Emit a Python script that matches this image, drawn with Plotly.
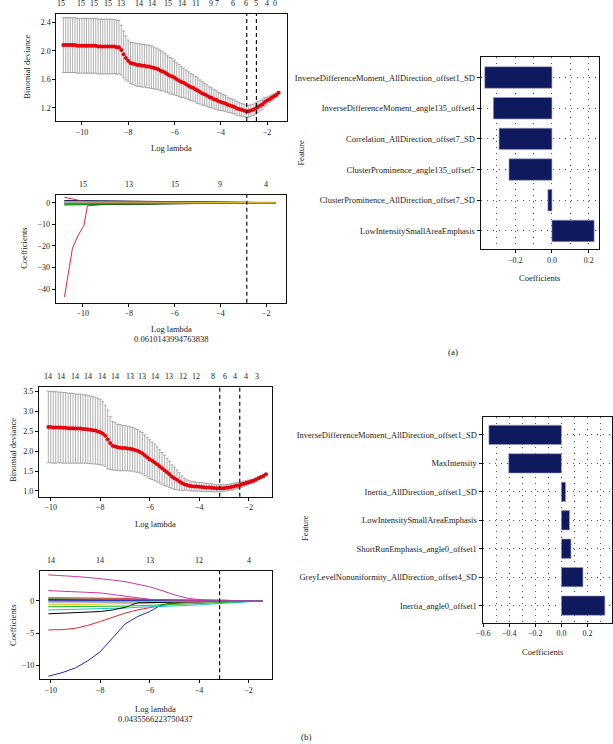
import numpy as np
import plotly.graph_objects as go

FONT = "Liberation Serif"
W, H = 613, 744

# ---------------- data: panel (a) cross-validation ----------------
cv_a_loglam = [-10.8, -10.7, -10.6, -10.5, -10.4, -10.3, -10.2, -10.1, -10.0, -9.9,
               -9.8, -9.7, -9.6, -9.5, -9.4, -9.3, -9.2, -9.1, -9.0, -8.9,
               -8.8, -8.7, -8.6, -8.5, -8.4, -8.3, -8.2, -8.1, -8.0, -7.9,
               -7.8, -7.7, -7.6, -7.5, -7.4, -7.3, -7.2, -7.1, -7.0, -6.9,
               -6.8, -6.7, -6.6, -6.5, -6.4, -6.3, -6.2, -6.1, -6.0, -5.9,
               -5.8, -5.7, -5.6, -5.5, -5.4, -5.3, -5.2, -5.1, -5.0, -4.9,
               -4.8, -4.7, -4.6, -4.5, -4.4, -4.3, -4.2, -4.1, -4.0, -3.9,
               -3.8, -3.7, -3.6, -3.5, -3.4, -3.3, -3.2, -3.1, -3.0, -2.9,
               -2.8, -2.7, -2.6, -2.5, -2.4, -2.3, -2.2, -2.1, -2.0, -1.9,
               -1.8, -1.7, -1.6, -1.5]
cv_a_mean = [2.08, 2.08, 2.08, 2.08, 2.08, 2.08, 2.07, 2.07, 2.07, 2.07,
             2.07, 2.07, 2.07, 2.07, 2.07, 2.06, 2.06, 2.06, 2.06, 2.06,
             2.06, 2.06, 2.06, 2.05, 2.05, 2.01, 1.95, 1.90, 1.86, 1.83,
             1.82, 1.81, 1.80, 1.80, 1.79, 1.79, 1.78, 1.78, 1.77, 1.76,
             1.75, 1.74, 1.72, 1.71, 1.69, 1.67, 1.65, 1.64, 1.62, 1.60,
             1.58, 1.56, 1.55, 1.53, 1.51, 1.49, 1.48, 1.46, 1.44, 1.42,
             1.40, 1.39, 1.37, 1.35, 1.34, 1.32, 1.31, 1.29, 1.28, 1.27,
             1.26, 1.24, 1.23, 1.22, 1.21, 1.19, 1.18, 1.17, 1.16, 1.15,
             1.15, 1.16, 1.17, 1.19, 1.21, 1.23, 1.25, 1.28, 1.30, 1.32,
             1.34, 1.36, 1.38, 1.41]
cv_a_sd = [0.385, 0.385, 0.385, 0.385, 0.385, 0.385, 0.385, 0.385, 0.385, 0.385,
           0.385, 0.385, 0.385, 0.385, 0.385, 0.385, 0.385, 0.385, 0.385, 0.385,
           0.385, 0.385, 0.38, 0.38, 0.375, 0.35, 0.33, 0.31, 0.29, 0.29,
           0.295, 0.30, 0.30, 0.30, 0.30, 0.30, 0.30, 0.30, 0.30, 0.295,
           0.29, 0.285, 0.28, 0.275, 0.27, 0.26, 0.255, 0.25, 0.24, 0.23,
           0.225, 0.215, 0.205, 0.20, 0.195, 0.19, 0.185, 0.18, 0.18, 0.17,
           0.165, 0.155, 0.15, 0.145, 0.14, 0.135, 0.13, 0.125, 0.12, 0.115,
           0.11, 0.105, 0.10, 0.10, 0.10, 0.095, 0.095, 0.09, 0.09, 0.085,
           0.085, 0.08, 0.08, 0.08, 0.08, 0.075, 0.07, 0.06, 0.05, 0.045,
           0.04, 0.035, 0.03, 0.02]
cv_a_top_pos = [-10.9, -10.03, -9.47, -8.86, -8.29, -7.52, -6.95, -6.29, -5.67, -5.05,
                -4.41, -4.15, -3.46, -2.89, -2.49, -2.02, -1.64]
cv_a_top_lab = ["15", "15", "15", "15", "13", "14", "14", "15", "14", "11",
                "9", "7", "6", "6", "5", "4", "0"]
cv_a_vlines = [-2.88, -2.46]

# ---------------- data: panel (a) coefficient paths ----------------
path_a_loglam = [-10.8, -10.6, -10.45, -10.2, -9.95, -9.8, -9.6, -9.4, -9.0, -8.5, -8.0, -7.5,
                 -7.0, -6.5, -6.0, -5.5, -5.0, -4.5, -4.0, -3.5, -3.0, -2.5, -2.0, -1.6]
path_a_coefs = [
    [1.0, 1.0, 0.95, 0.9, 0.9, 0.85, 0.85, 0.8, 0.8, 0.75, 0.7, 0.65, 0.6, 0.5, 0.4, 0.3, 0.2, 0.1, 0.05, 0, 0, 0, 0, 0],
    [-43.5, -31.0, -21.0, -15.0, -10.5, -1.5, -1.3, -1.0, -0.7, -0.5, -0.4, -0.3, -0.25, -0.2, -0.15, -0.1, -0.05, 0, 0, 0, 0, 0, 0, 0],
    [0.3, 0.3, 0.3, 0.3, 0.3, 0.3, 0.3, 0.3, 0.3, 0.3, 0.3, 0.3, 0.3, 0.3, 0.3, 0.3, 0.3, 0.3, 0.28, 0.26, 0.24, 0.22, 0.2, 0.18],
    [-0.6, -0.6, -0.6, -0.55, -0.55, -0.5, -0.5, -0.5, -0.45, -0.4, -0.4, -0.35, -0.3, -0.3, -0.25, -0.2, -0.15, -0.1, -0.05, 0, 0, 0, 0, 0],
    [0.1, 0.1, 0.1, 0.1, 0.1, 0.1, 0.1, 0.1, 0.1, 0.1, 0.1, 0.1, 0.1, 0.1, 0.1, 0.1, 0.1, 0.1, 0.1, 0.05, 0.05, 0.02, 0, 0],
    [0.6, 0.6, 0.6, 0.6, 0.6, 0.6, 0.6, 0.6, 0.6, 0.6, 0.6, 0.55, 0.5, 0.45, 0.4, 0.3, 0.1, 0, 0, 0, 0, 0, 0, 0],
    [-0.2, -0.2, -0.2, -0.2, -0.2, -0.2, -0.2, -0.2, -0.2, -0.2, -0.15, -0.15, -0.1, -0.1, -0.1, -0.05, 0, 0, 0, 0, 0, 0, 0, 0],
    [0.2, 0.2, 0.2, 0.2, 0.2, 0.2, 0.2, 0.2, 0.2, 0.2, 0.2, 0.15, 0.15, 0.1, 0.1, 0.1, 0.05, 0.05, 0, 0, 0, 0, 0, 0],
    [-1.0, -1.0, -1.0, -0.95, -0.95, -0.9, -0.9, -0.9, -0.85, -0.8, -0.8, -0.75, -0.7, -0.6, -0.5, -0.4, -0.3, -0.2, -0.1, -0.05, 0, 0, 0, 0],
    [2.5, 2.0, 1.6, 1.1, 0.6, 0.4, 0.3, 0.3, 0.25, 0.2, 0.2, 0.15, 0.1, 0.1, 0.05, 0.05, 0, 0, 0, 0, 0, 0, 0, 0],
    [-0.8, -0.8, -0.8, -0.8, -0.75, -0.75, -0.7, -0.7, -0.7, -0.65, -0.6, -0.55, -0.5, -0.45, -0.4, -0.3, -0.25, -0.2, -0.15, -0.1, -0.05, 0, 0, 0],
    [0.8, 0.8, 0.8, 0.75, 0.75, 0.7, 0.7, 0.7, 0.65, 0.6, 0.6, 0.55, 0.5, 0.45, 0.4, 0.35, 0.3, 0.2, 0.1, 0.05, 0, 0, 0, 0],
    [-0.3, -0.3, -0.3, -0.3, -0.3, -0.3, -0.3, -0.3, -0.3, -0.3, -0.25, -0.25, -0.2, -0.2, -0.15, -0.1, -0.1, -0.05, 0, 0, 0, 0, 0, 0],
    [-0.4, -0.4, -0.4, -0.4, -0.4, -0.4, -0.4, -0.35, -0.35, -0.3, -0.3, -0.3, -0.25, -0.2, -0.2, -0.15, -0.1, -0.05, -0.05, 0, 0, 0, 0, 0],
    [0.45, 0.45, 0.45, 0.45, 0.45, 0.45, 0.4, 0.4, 0.4, 0.4, 0.35, 0.35, 0.3, 0.3, 0.25, 0.2, 0.15, 0.1, 0.05, 0, 0, 0, 0, 0],
]
path_a_top_pos = [-10.0, -8.0, -6.0, -4.0, -2.0]
path_a_top_lab = ["15", "13", "15", "9", "4"]
path_a_vline = [-2.85]
lambda_a_text = "0.0610143994763838"

# ---------------- data: panel (a) selected features ----------------
bar_a_features = ["InverseDifferenceMoment_AllDirection_offset1_SD",
                  "InverseDifferenceMoment_angle135_offset4",
                  "Correlation_AllDirection_offset7_SD",
                  "ClusterProminence_angle135_offset7",
                  "ClusterProminence_AllDirection_offset7_SD",
                  "LowIntensitySmallAreaEmphasis"]
bar_a_coefs = [-0.366, -0.319, -0.288, -0.234, -0.022, 0.230]

# ---------------- data: panel (b) cross-validation ----------------
cv_b_loglam = [-10.1, -10.0, -9.9, -9.8, -9.7, -9.6, -9.5, -9.4, -9.3, -9.2,
               -9.1, -9.0, -8.9, -8.8, -8.7, -8.6, -8.5, -8.4, -8.3, -8.2,
               -8.1, -8.0, -7.9, -7.8, -7.7, -7.6, -7.5, -7.4, -7.3, -7.2,
               -7.1, -7.0, -6.9, -6.8, -6.7, -6.6, -6.5, -6.4, -6.3, -6.2,
               -6.1, -6.0, -5.9, -5.8, -5.7, -5.6, -5.5, -5.4, -5.3, -5.2,
               -5.1, -5.0, -4.9, -4.8, -4.7, -4.6, -4.5, -4.4, -4.3, -4.2,
               -4.1, -4.0, -3.9, -3.8, -3.7, -3.6, -3.5, -3.4, -3.3, -3.2,
               -3.1, -3.0, -2.9, -2.8, -2.7, -2.6, -2.5, -2.4, -2.3, -2.2,
               -2.1, -2.0, -1.9, -1.8, -1.7, -1.6, -1.5, -1.4, -1.3]
cv_b_mean = [2.61, 2.61, 2.60, 2.60, 2.60, 2.60, 2.59, 2.59, 2.58, 2.58,
             2.58, 2.57, 2.57, 2.57, 2.56, 2.56, 2.55, 2.54, 2.53, 2.52,
             2.50, 2.48, 2.45, 2.39, 2.30, 2.21, 2.14, 2.12, 2.10, 2.09,
             2.08, 2.08, 2.07, 2.06, 2.05, 2.03, 2.01, 1.98, 1.95, 1.90,
             1.85, 1.80, 1.76, 1.72, 1.67, 1.62, 1.57, 1.52, 1.47, 1.42,
             1.36, 1.32, 1.28, 1.24, 1.20, 1.17, 1.15, 1.13, 1.12, 1.115,
             1.11, 1.105, 1.10, 1.095, 1.09, 1.085, 1.08, 1.075, 1.07, 1.07,
             1.07, 1.07, 1.08, 1.09, 1.10, 1.11, 1.13, 1.14, 1.16, 1.18,
             1.20, 1.22, 1.24, 1.26, 1.29, 1.32, 1.35, 1.38, 1.42]
cv_b_sd = [0.90, 0.90, 0.90, 0.90, 0.89, 0.89, 0.89, 0.89, 0.88, 0.88,
           0.88, 0.87, 0.87, 0.87, 0.86, 0.86, 0.86, 0.85, 0.85, 0.84,
           0.83, 0.82, 0.80, 0.77, 0.74, 0.67, 0.61, 0.60, 0.58, 0.58,
           0.57, 0.57, 0.56, 0.56, 0.55, 0.55, 0.54, 0.53, 0.52, 0.51,
           0.50, 0.49, 0.47, 0.46, 0.44, 0.42, 0.40, 0.38, 0.35, 0.33,
           0.30, 0.28, 0.25, 0.22, 0.18, 0.15, 0.13, 0.125, 0.12, 0.115,
           0.11, 0.11, 0.11, 0.105, 0.10, 0.10, 0.10, 0.095, 0.09, 0.09,
           0.09, 0.085, 0.08, 0.08, 0.08, 0.08, 0.08, 0.075, 0.07, 0.065,
           0.06, 0.055, 0.05, 0.045, 0.04, 0.035, 0.03, 0.025, 0.02]
cv_b_top_pos = [-10.1, -9.57, -9.04, -8.48, -7.94, -7.41, -6.81, -6.31, -5.77, -5.24,
                -4.67, -4.11, -3.46, -2.97, -2.57, -2.10, -1.66]
cv_b_top_lab = ["14", "14", "14", "14", "14", "14", "13", "13", "14", "13",
                "12", "12", "8", "6", "4", "4", "3"]
cv_b_vlines = [-3.17, -2.36]

# ---------------- data: panel (b) coefficient paths ----------------
path_b_loglam = [-10.1, -9.5, -9.0, -8.5, -8.0, -7.5, -7.0, -6.5, -6.0, -5.5, -5.0, -4.5,
                 -4.0, -3.5, -3.0, -2.5, -2.0, -1.44]
path_b_coefs = [
    [0.2, 0.2, 0.2, 0.2, 0.2, 0.2, 0.15, 0.1, 0.1, 0.1, 0.1, 0.1, 0.1, 0.1, 0.1, 0.05, 0.02, 0],
    [-4.5, -4.45, -4.25, -3.8, -3.2, -2.5, -1.9, -1.4, -1.0, -0.7, -0.4, -0.25, -0.1, -0.05, 0, 0, 0, 0],
    [0.35, 0.35, 0.35, 0.35, 0.35, 0.35, 0.3, 0.25, 0.2, 0.15, 0.12, 0.1, 0.08, 0.06, 0.05, 0.03, 0.01, 0],
    [-11.7, -11.1, -10.4, -9.3, -7.9, -5.8, -3.6, -2.45, -1.65, -0.55, -0.3, -0.2, -0.15, -0.1, -0.05, 0, 0, 0],
    [-1.4, -1.35, -1.3, -1.3, -1.25, -1.2, -1.1, -1.0, -0.95, -0.85, -0.8, -0.7, -0.6, -0.5, -0.4, -0.3, -0.2, 0],
    [4.05, 3.95, 3.8, 3.65, 3.5, 3.25, 3.0, 2.65, 2.2, 1.6, 0.95, 0.45, 0.2, 0.12, 0.08, 0.05, 0.02, 0],
    [-0.6, -0.6, -0.6, -0.55, -0.5, -0.45, -0.4, -0.35, -0.3, -0.25, -0.2, -0.15, -0.1, -0.05, 0, 0, 0, 0],
    [-0.3, -0.3, -0.3, -0.3, -0.3, -0.28, -0.26, -0.24, -0.2, -0.18, -0.15, -0.12, -0.1, -0.08, -0.05, -0.03, -0.01, 0],
    [-2.0, -1.9, -1.8, -1.75, -1.65, -1.4, -1.0, -0.3, -0.25, -0.2, -0.15, -0.12, -0.1, -0.05, 0, 0, 0, 0],
    [0.5, 0.5, 0.5, 0.5, 0.5, 0.45, 0.4, 0.3, 0.2, 0.1, 0.05, 0, 0, 0, 0, 0, 0, 0],
    [-0.9, -0.9, -0.88, -0.86, -0.85, -0.82, -0.8, -0.75, -0.7, -0.65, -0.6, -0.5, -0.4, -0.3, -0.2, -0.1, -0.05, 0],
    [0.1, 0.1, 0.1, 0.1, 0.1, 0.1, 0.1, 0.1, 0.1, 0.08, 0.06, 0.05, 0.04, 0.03, 0.02, 0.01, 0, 0],
    [-0.1, -0.1, -0.1, -0.1, -0.1, -0.1, -0.1, -0.1, -0.1, -0.1, -0.1, -0.1, -0.1, -0.1, -0.08, -0.05, -0.02, 0],
    [1.6, 1.5, 1.4, 1.35, 1.25, 1.0, 0.75, 0.45, 0.25, 0.18, 0.12, 0.08, 0.05, 0.03, 0.02, 0.01, 0, 0],
]
path_b_top_pos = [-10.0, -8.0, -6.0, -4.0, -2.0]
path_b_top_lab = ["14", "14", "13", "12", "4"]
path_b_vline = [-3.17]
lambda_b_text = "0.0435566223750437"

# ---------------- data: panel (b) selected features ----------------
bar_b_features = ["InverseDifferenceMoment_AllDirection_offset1_SD",
                  "MaxIntensity",
                  "Inertia_AllDirection_offset1_SD",
                  "LowIntensitySmallAreaEmphasis",
                  "ShortRunEmphasis_angle0_offset1",
                  "GreyLevelNonuniformity_AllDirection_offset4_SD",
                  "Inertia_angle0_offset1"]
bar_b_coefs = [-0.556, -0.404, 0.032, 0.062, 0.073, 0.165, 0.333]

PALETTE = ["#000000", "#e4262f", "#1fb41f", "#2626b0", "#1cc4d2", "#c6389f", "#d9c51d", "#a8a8a8"]

# ---------------- helpers ----------------
def px_x(p):
    return p / W

def px_y(p):
    return 1 - p / H

TICKFONT = dict(family=FONT, size=8, color="#222222")

def axis(domain, rng, **kw):
    d = dict(domain=domain, range=rng, showline=True, linecolor="#111111", linewidth=1,
             mirror=True, ticks="outside", ticklen=3, tickcolor="#111111", tickwidth=1,
             tickfont=TICKFONT, showgrid=False, zeroline=False, fixedrange=True)
    d.update(kw)
    return d

fig = go.Figure()
annotations = []
shapes = []

def text(x, y, s, size=8.5, angle=0, xref="paper"):
    annotations.append(dict(x=x, y=y, xref=xref, yref="paper", text=s, showarrow=False,
                            textangle=angle, xanchor="center", yanchor="middle",
                            font=dict(family=FONT, size=size, color="#222222")))

def vline(xv, xref, yref):
    shapes.append(dict(type="line", xref=xref, yref=yref + " domain", x0=xv, x1=xv, y0=0, y1=1,
                       line=dict(color="#111111", width=1.2, dash="4px,3px")))

def toplabels(pos, lab, xref, ypx):
    for p, s in zip(pos, lab):
        annotations.append(dict(x=p, y=px_y(ypx), xref=xref, yref="paper", text=s, showarrow=False,
                                xanchor="center", yanchor="middle",
                                font=dict(family=FONT, size=8, color="#222222")))

ERR = dict(type="data", color="#8c8c8c", thickness=0.7, width=1.5)

# ---------- (a) CV ----------
fig.add_trace(go.Scatter(x=cv_a_loglam, y=cv_a_mean, mode="markers", xaxis="x", yaxis="y",
                         marker=dict(color="#e8000b", size=4),
                         error_y=dict(array=cv_a_sd, **ERR),
                         showlegend=False, hoverinfo="skip"))
for v in cv_a_vlines:
    vline(v, "x", "y")
toplabels(cv_a_top_pos, cv_a_top_lab, "x", 4)

# ---------- (a) paths ----------
for i, c in enumerate(path_a_coefs):
    fig.add_trace(go.Scatter(x=path_a_loglam, y=c, mode="lines", xaxis="x2", yaxis="y2",
                             line=dict(color=PALETTE[i % len(PALETTE)], width=1),
                             showlegend=False, hoverinfo="skip"))
for v in path_a_vline:
    vline(v, "x2", "y2")
toplabels(path_a_top_pos, path_a_top_lab, "x2", 184)

# ---------- (a) bars ----------
fig.add_trace(go.Bar(x=bar_a_coefs, y=bar_a_features, orientation="h", xaxis="x3", yaxis="y3",
                     width=0.7, marker=dict(color="#0f1a5e", line=dict(color="#9aa0c8", width=0.6)),
                     showlegend=False, hoverinfo="skip"))

# ---------- (b) CV ----------
fig.add_trace(go.Scatter(x=cv_b_loglam, y=cv_b_mean, mode="markers", xaxis="x4", yaxis="y4",
                         marker=dict(color="#e8000b", size=4),
                         error_y=dict(array=cv_b_sd, **ERR),
                         showlegend=False, hoverinfo="skip"))
for v in cv_b_vlines:
    vline(v, "x4", "y4")
toplabels(cv_b_top_pos, cv_b_top_lab, "x4", 376)

# ---------- (b) paths ----------
for i, c in enumerate(path_b_coefs):
    fig.add_trace(go.Scatter(x=path_b_loglam, y=c, mode="lines", xaxis="x5", yaxis="y5",
                             line=dict(color=PALETTE[i % len(PALETTE)], width=1),
                             showlegend=False, hoverinfo="skip"))
for v in path_b_vline:
    vline(v, "x5", "y5")
toplabels(path_b_top_pos, path_b_top_lab, "x5", 560)

# ---------- (b) bars ----------
fig.add_trace(go.Bar(x=bar_b_coefs, y=bar_b_features, orientation="h", xaxis="x6", yaxis="y6",
                     width=0.68, marker=dict(color="#0f1a5e", line=dict(color="#9aa0c8", width=0.6)),
                     showlegend=False, hoverinfo="skip"))

# ---------- text labels ----------
text(px_x(166), px_y(148), "Log lambda")
text(px_x(20), px_y(67), "Binomial deviance", angle=-90)
text(px_x(166), px_y(329), "Log lambda")
text(px_x(166), px_y(339), lambda_a_text)
text(px_x(17), px_y(248), "Coefficients", angle=-90)
text(px_x(297), px_y(153), "Feature", angle=-90)
text(px_x(539), px_y(278), "Coefficients")
text(px_x(451), px_y(352), "(a)", size=9)

text(px_x(150), px_y(524), "Log lambda")
text(px_x(6), px_y(450), "Binomial deviance", angle=-90)
text(px_x(150), px_y(709), "Log lambda")
text(px_x(150), px_y(719), lambda_b_text)
text(px_x(6), px_y(625), "Coefficients", angle=-90)
text(px_x(300.7), px_y(527.7), "Feature", angle=-90)
text(px_x(541.7), px_y(652), "Coefficients")
text(px_x(303), px_y(737), "(b)", size=9)

dotgrid = dict(showgrid=True, gridcolor="#555555", gridwidth=1, griddash="1px,5px")
dotminor = dict(dtick=0.1, tick0=0, showgrid=True, gridcolor="#555555", gridwidth=1, griddash="1px,5px")

fig.update_layout(
    width=W, height=H, margin=dict(l=0, r=0, t=0, b=0),
    paper_bgcolor="white", plot_bgcolor="white", showlegend=False,
    font=dict(family=FONT, size=8, color="#222222"),
    xaxis=axis([px_x(50), px_x(283)], [-11.1, -1.15], anchor="y", tickvals=[-10, -8, -6, -4, -2]),
    yaxis=axis([px_y(121), px_y(14)], [1.013, 2.517], anchor="x", tickvals=[1.2, 1.6, 2.0, 2.4], tickformat=".1f"),
    xaxis2=axis([px_x(49.3), px_x(282.7)], [-11.18, -1.12], anchor="y2", tickvals=[-10, -8, -6, -4, -2]),
    yaxis2=axis([px_y(302.7), px_y(195)], [-46.2, 3.55], anchor="x2", tickvals=[-40, -30, -20, -10, 0]),
    xaxis3=axis([px_x(479), px_x(599.3)], [-0.389, 0.259], anchor="y3", tickvals=[-0.2, 0.0, 0.2],
                tickformat=".1f", minor=dotminor, **dotgrid),
    yaxis3=axis([px_y(249.3), px_y(57.3)], [-0.6, 5.66], anchor="x3", type="category",
                categoryorder="array", categoryarray=list(reversed(bar_a_features)),
                tickfont=dict(family=FONT, size=8.5, color="#222222"), **dotgrid),
    xaxis4=axis([px_x(32.3), px_x(267.7)], [-10.48, -1.07], anchor="y4", tickvals=[-10, -8, -6, -4, -2]),
    yaxis4=axis([px_y(496.7), px_y(387.3)], [0.856, 3.61], anchor="x4",
                tickvals=[1.0, 1.5, 2.0, 2.5, 3.0, 3.5], tickformat=".1f"),
    xaxis5=axis([px_x(33.3), px_x(268.3)], [-10.44, -1.04], anchor="y5", tickvals=[-10, -8, -6, -4, -2]),
    yaxis5=axis([px_y(679.3), px_y(570.7)], [-12.18, 4.7], anchor="x5", tickvals=[-10, -5, 0]),
    xaxis6=axis([px_x(481), px_x(612.3)], [-0.605, 0.39], anchor="y6", tickvals=[-0.6, -0.4, -0.2, 0.0, 0.2],
                tickformat=".1f", minor=dotminor, **dotgrid),
    yaxis6=axis([px_y(622.7), px_y(417.3)], [-0.6, 6.62], anchor="x6", type="category",
                categoryorder="array", categoryarray=list(reversed(bar_b_features)),
                tickfont=dict(family=FONT, size=8.5, color="#222222"), **dotgrid),
    annotations=annotations,
    shapes=shapes,
)

fig.write_html("out.html",
               config={"displayModeBar": False, "staticPlot": True},
               post_script="document.body.style.margin='0px';document.body.style.overflow='hidden';")
